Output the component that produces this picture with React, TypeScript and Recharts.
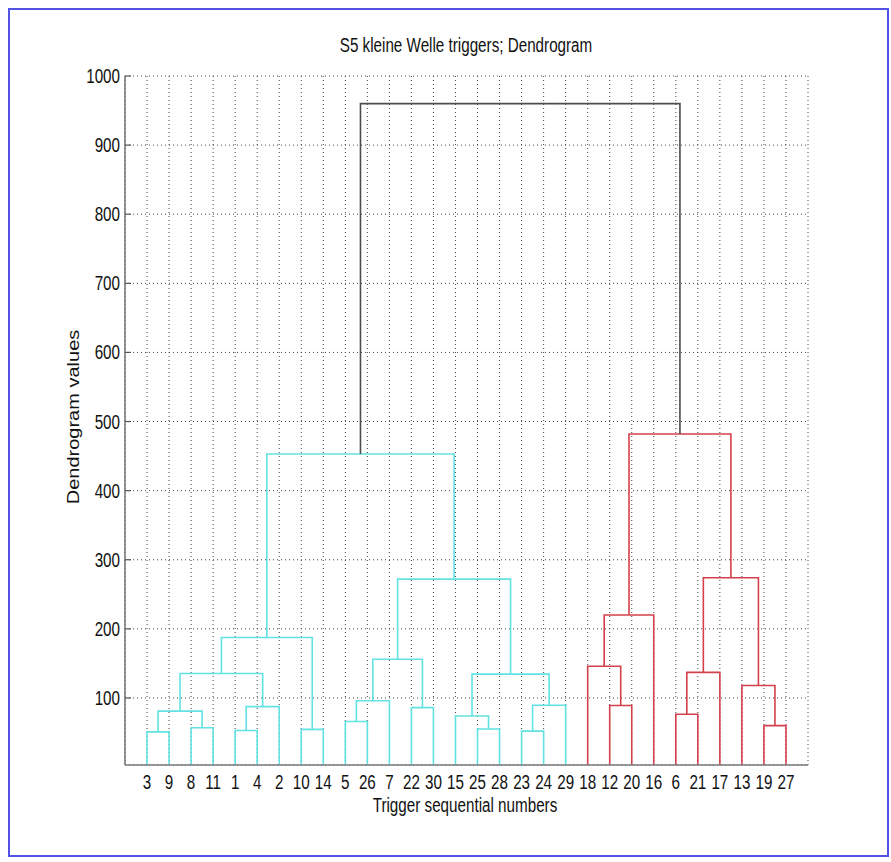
import React from 'react';
import { LineChart, Line, XAxis, YAxis, CartesianGrid } from 'recharts';

// Leaf order along the x axis (trigger sequential numbers)
const triggerOrder = [3, 9, 8, 11, 1, 4, 2, 10, 14, 5, 26, 7, 22, 30, 15, 25, 28, 23, 24, 29, 18, 12, 20, 16, 6, 21, 17, 13, 19, 27];

// Linkage table: row k joins mergeLeft[k] and mergeRight[k] at mergeHeight[k].
// Ids 1..30 are triggers, row k creates cluster id 31 + k.
const mergeLeft = [3, 23, 1, 10, 25, 8, 19, 5, 15, 6, 31, 22, 33, 12, 32, 38, 13, 39, 41, 40, 18, 46, 49, 51, 52, 50, 53, 54, 57];
const mergeRight = [9, 24, 4, 14, 28, 11, 27, 26, 35, 21, 36, 30, 2, 20, 29, 7, 37, 45, 43, 17, 44, 42, 34, 16, 48, 47, 55, 56, 58];
const mergeHeight = [51, 52, 53, 54.5, 55, 57, 60, 66, 74, 76.5, 81, 86, 87.5, 89, 89.5, 96, 118, 134.5, 135.5, 137, 146, 156, 187.5, 220, 272, 274, 453, 482, 960];

const yTicks = [100, 200, 300, 400, 500, 600, 700, 800, 900, 1000];
const xTicks = triggerOrder.map((_, i) => i + 1);

const groupColors = ['#62e2e2', '#d4414c'];
const aboveColor = '#4d4d4d';

const FONT = "'Liberation Sans', Arial, Helvetica, sans-serif";
const SQUEEZE = 0.78;

type Pt = { x: number; y: number };
type Link = { id: number; points: Pt[]; color: string };

function buildLinks(): Link[] {
  const n = triggerOrder.length;
  const nodeX: Record<number, number> = {};
  const nodeH: Record<number, number> = {};
  const parent: Record<number, number> = {};
  triggerOrder.forEach((t, i) => {
    nodeX[t] = i + 1;
    nodeH[t] = 0;
  });
  mergeLeft.forEach((a, k) => {
    const b = mergeRight[k];
    const id = n + 1 + k;
    nodeX[id] = (nodeX[a] + nodeX[b]) / 2;
    nodeH[id] = mergeHeight[k];
    parent[a] = id;
    parent[b] = id;
  });

  // colour groups: clusters below 70% of the top height
  const threshold = 0.7 * Math.max(...mergeHeight);
  const groupRoot = (id: number): number => {
    let cur = id;
    while (parent[cur] !== undefined && nodeH[parent[cur]] < threshold) cur = parent[cur];
    return cur;
  };
  const roots: number[] = [];
  mergeLeft.forEach((_, k) => {
    const id = n + 1 + k;
    if (nodeH[id] < threshold) {
      const r = groupRoot(id);
      if (!roots.includes(r)) roots.push(r);
    }
  });
  roots.sort((p, q) => nodeX[p] - nodeX[q]);

  return mergeLeft.map((a, k) => {
    const b = mergeRight[k];
    const h = mergeHeight[k];
    const id = n + 1 + k;
    const color = h < threshold ? groupColors[roots.indexOf(groupRoot(id)) % groupColors.length] : aboveColor;
    return {
      id,
      color,
      points: [
        { x: nodeX[a], y: nodeH[a] },
        { x: nodeX[a], y: h },
        { x: nodeX[b], y: h },
        { x: nodeX[b], y: nodeH[b] },
      ],
    };
  });
}

const links = buildLinks();

const YTick = (props: any) => {
  const { x, y, payload } = props;
  return (
    <g>
      <line x1={x} x2={x + 6} y1={y} y2={y} stroke="#555" strokeWidth={1.2} />
      <text
        transform={`translate(${x - 5},${y + 7}) scale(${SQUEEZE},1)`}
        textAnchor="end"
        fontFamily={FONT}
        fontSize={19.5}
        fill="#111"
      >
        {payload.value}
      </text>
    </g>
  );
};

const XTick = (props: any) => {
  const { x, y, payload } = props;
  return (
    <text
      transform={`translate(${x},${y + 24}) scale(${SQUEEZE},1)`}
      textAnchor="middle"
      fontFamily={FONT}
      fontSize={19.5}
      fill="#111"
    >
      {triggerOrder[payload.value - 1]}
    </text>
  );
};

const textBase: React.CSSProperties = {
  position: 'absolute',
  whiteSpace: 'nowrap',
  fontFamily: FONT,
  fontSize: 19.5,
  lineHeight: 1,
  color: '#111',
};

export default function App() {
  return (
    <div style={{ position: 'absolute', left: 8, top: 8, width: 883, height: 850, background: '#fff' }}>
      <LineChart width={883} height={850} margin={{ top: 68, right: 83, bottom: 33, left: 0 }}>
        <CartesianGrid stroke="#444" strokeDasharray="1 3" strokeWidth={1} />
        <XAxis
          type="number"
          dataKey="x"
          domain={[0, 31]}
          ticks={xTicks}
          interval={0}
          allowDataOverflow
          height={60}
          axisLine={{ stroke: '#7a7a7a', strokeWidth: 1.6 }}
          tickLine={false}
          tickSize={0}
          tickMargin={0}
          tick={<XTick />}
        />
        <YAxis
          type="number"
          domain={[3, 1000]}
          ticks={yTicks}
          interval={0}
          allowDataOverflow
          width={117}
          axisLine={{ stroke: '#7a7a7a', strokeWidth: 1.6 }}
          tickLine={false}
          tickSize={0}
          tickMargin={0}
          tick={<YTick />}
        />
        {links.map((l) => (
          <Line
            key={l.id}
            data={l.points}
            dataKey="y"
            type="linear"
            stroke={l.color}
            strokeWidth={1.6}
            dot={false}
            activeDot={false}
            isAnimationActive={false}
          />
        ))}
      </LineChart>
      <div style={{ ...textBase, left: 458, top: 38, transform: `translate(-50%,-50%) scaleX(${SQUEEZE})` }}>
        S5 kleine Welle triggers; Dendrogram
      </div>
      <div style={{ ...textBase, left: 456.5, top: 798, transform: `translate(-50%,-50%) scaleX(${SQUEEZE})` }}>
        Trigger sequential numbers
      </div>
      <div
        style={{
          ...textBase,
          fontSize: 20,
          left: 66,
          top: 409,
          transform: `translate(-50%,-50%) scaleX(${SQUEEZE}) rotate(-90deg)`,
        }}
      >
        Dendrogram values
      </div>
      <div
        style={{
          position: 'absolute',
          left: 0,
          top: 0,
          width: 881,
          height: 849,
          boxSizing: 'border-box',
          border: '2px solid #5252e4',
          pointerEvents: 'none',
        }}
      />
    </div>
  );
}
